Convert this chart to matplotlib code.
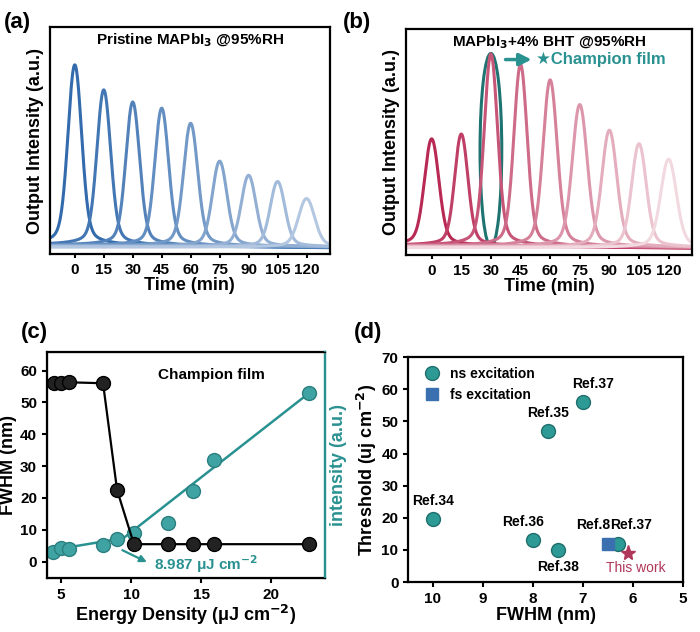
import numpy as np
import matplotlib.pyplot as plt
from matplotlib.patches import Ellipse

plt.rcParams['font.family'] = ['Liberation Sans', 'DejaVu Sans']
plt.rcParams['font.weight'] = 'bold'
plt.rcParams['axes.labelweight'] = 'bold'

# (a) / (b) peaks
times = [0, 15, 30, 45, 60, 75, 90, 105, 120]
peak_a = [182, 157, 145, 139, 124, 86, 72, 66, 49]
peak_b = [105, 110, 189, 179, 164, 140, 115, 102, 87]
width_a = [3.4, 3.4, 3.4, 3.4, 3.5, 3.6, 3.6, 3.6, 4.0]
width_b = [3.5, 3.2, 3.2, 3.2, 3.4, 3.6, 3.6, 3.5, 3.8]

# (c)
energy = [4.5, 5.0, 5.6, 8.0, 9.0, 10.2, 12.6, 14.4, 15.9, 22.7]
fwhm_c = [56, 56, 56.3, 56, 22.5, 5.5, 5.5, 5.5, 5.5, 5.5]
inten_x = [4.4, 5.0, 5.6, 8.0, 9.0, 10.2, 12.6, 14.4, 15.9, 22.7]
inten = [3.2, 4.2, 4.0, 5.3, 7.0, 9.0, 12.2, 22.3, 32.0, 53.0]
fit_low_x, fit_low_y = [4.0, 9.2], [3.4, 7.2]
fit_high_x, fit_high_y = [8.987, 22.7], [5.8, 53.0]

# (d)
ns_fwhm = [10, 7.7, 7.0, 8.0, 7.5, 6.3]
ns_thr = [19.5, 47, 56, 13, 10, 12]
ns_lab = ['Ref.34', 'Ref.35', 'Ref.37', 'Ref.36', 'Ref.38', 'Ref.37']
ns_off = [(0, 4.5), (0, 4.5), (-0.2, 4.5), (0.2, 4.5), (0.0, -6.5), (-0.25, 4.5)]
fs_fwhm, fs_thr = [6.5], [12]
this_fwhm, this_thr = [6.1], [9]

teal = '#2a9191'
teal_dark = '#1f7371'

fig = plt.figure(figsize=(7, 6.32), dpi=100)


def peaks(ax, heights, widths, c0, c1, title):
    x = np.linspace(-13, 132, 1500)
    n = len(times)
    for i, (t, h, w) in enumerate(zip(times, heights, widths)):
        f = i / (n - 1)
        col = tuple(np.array(c0) * (1 - f) + np.array(c1) * f)
        y = 0.85 * h * np.exp(-0.5 * ((x - t) / w) ** 2) + 0.15 * h / (1 + ((x - t) / (2.2 * w)) ** 2)
        y = y + 3 + 2 * (1 - f) - 0.02 * (x - t) * (1 - f)
        ax.plot(x, y, color=col, lw=2.2)
    ax.set_xlim(-13, 132)
    ax.set_xticks(times)
    ax.set_yticks([])
    ax.set_xlabel('Time (min)', fontsize=13, labelpad=0)
    ax.set_ylabel('Output Intensity (a.u.)', fontsize=13)
    ax.tick_params(axis='x', labelsize=11, length=3, width=1.5)
    for s in ax.spines.values():
        s.set_linewidth(1.6)
    ax.text(0.5, 0.925, title, transform=ax.transAxes, ha='center', fontsize=11)


axa = fig.add_axes([0.071, 0.598, 0.40, 0.359])
peaks(axa, peak_a, width_a, (0.20, 0.42, 0.68), (0.70, 0.78, 0.88), 'Pristine MAPbI$_3$ @95%RH')
axa.set_ylim(-4, 225)
fig.text(0.005, 0.955, '(a)', fontsize=16, weight='bold')

axb = fig.add_axes([0.58, 0.597, 0.409, 0.357])
peaks(axb, peak_b, width_b, (0.72, 0.16, 0.33), (0.95, 0.85, 0.88), 'MAPbI$_3$+4% BHT @95%RH')
axb.set_ylim(-4, 218)
axb.add_patch(Ellipse((30, 99), 11, 190, fill=False, ec=teal_dark, lw=2.2))
axb.annotate('', xy=(52, 188), xytext=(36, 188),
             arrowprops=dict(arrowstyle='-|>', color=teal, lw=2.5, mutation_scale=18))
axb.text(53, 188, '\u2605Champion film', color=teal, fontsize=12, va='center')
fig.text(0.49, 0.955, '(b)', fontsize=16, weight='bold')

# (c)
axc = fig.add_axes([0.067, 0.085, 0.397, 0.358])
axc.plot(fit_low_x, fit_low_y, color=teal, lw=1.8)
axc.plot(fit_high_x, fit_high_y, color=teal, lw=1.8)
axc.plot(inten_x, inten, 'o', color='#3fa3a3', mec='#2c7f7f', ms=10)
axc.plot(energy, fwhm_c, '-o', color='black', mfc='#222222', mec='black', ms=10, lw=1.6)
axc.annotate('', xy=(11.3, -0.5), xytext=(9.2, 4),
             arrowprops=dict(arrowstyle='-|>', color=teal, lw=1.6))
axc.text(11.6, -0.8, '8.987 \u03bcJ cm$^{\\mathbf{-2}}$', color=teal, fontsize=11, va='center')
axc.text(0.4, 0.88, 'Champion film', transform=axc.transAxes, fontsize=11)
axc.set_xlim(4.0, 23.8)
axc.set_ylim(-5.2, 65.8)
axc.set_xticks([5, 10, 15, 20])
axc.set_yticks(range(0, 61, 10))
axc.set_xlabel('Energy Density (\u03bcJ cm$^{\\mathbf{-2}}$)', fontsize=13, labelpad=1)
axc.set_ylabel('FWHM (nm)', fontsize=13, labelpad=2)
axc.tick_params(labelsize=11, width=1.5)
for s in axc.spines.values():
    s.set_linewidth(1.6)
axc.spines['right'].set_color(teal)
ax2 = axc.twinx()
ax2.set_yticks([])
ax2.spines['right'].set_color(teal)
ax2.spines['right'].set_linewidth(1.6)
ax2.set_ylabel('intensity (a.u.)', color=teal, fontsize=13, labelpad=4)
fig.text(0.03, 0.465, '(c)', fontsize=16, weight='bold')

# (d)
axd = fig.add_axes([0.583, 0.079, 0.393, 0.356])
axd.plot(ns_fwhm, ns_thr, 'o', color='#2e9a96', mec='#1f6f6c', ms=10, label='ns excitation')
axd.plot(fs_fwhm, fs_thr, 's', color='#3a6fb0', ms=8, label='fs excitation')
axd.plot(this_fwhm, this_thr, '*', color='#b0365a', ms=11)
for x, y, lab, (dx, dy) in zip(ns_fwhm, ns_thr, ns_lab, ns_off):
    axd.text(x + dx, y + dy, lab, ha='center', fontsize=10)
axd.text(6.8, 12 + 4.5, 'Ref.8', ha='center', fontsize=10)
axd.text(this_fwhm[0] - 0.15, this_thr[0] - 6, 'This work', ha='center', fontsize=10,
         color='#b0365a', weight='normal')
axd.legend(loc='upper left', frameon=False, handletextpad=0.3,
           borderaxespad=0.3, prop={'weight': 'bold', 'size': 10})
axd.set_xlim(10.49, 5)
axd.set_ylim(0, 70)
axd.set_xticks([10, 9, 8, 7, 6, 5])
axd.set_yticks(range(0, 71, 10))
axd.set_xlabel('FWHM (nm)', fontsize=13, labelpad=1)
axd.set_ylabel('Threshold (uj cm$^{\\mathbf{-2}}$)', fontsize=13, labelpad=2)
axd.tick_params(labelsize=11, width=1.5)
for s in axd.spines.values():
    s.set_linewidth(1.6)
fig.text(0.505, 0.465, '(d)', fontsize=16, weight='bold')

fig.savefig('out.png', dpi=100)
